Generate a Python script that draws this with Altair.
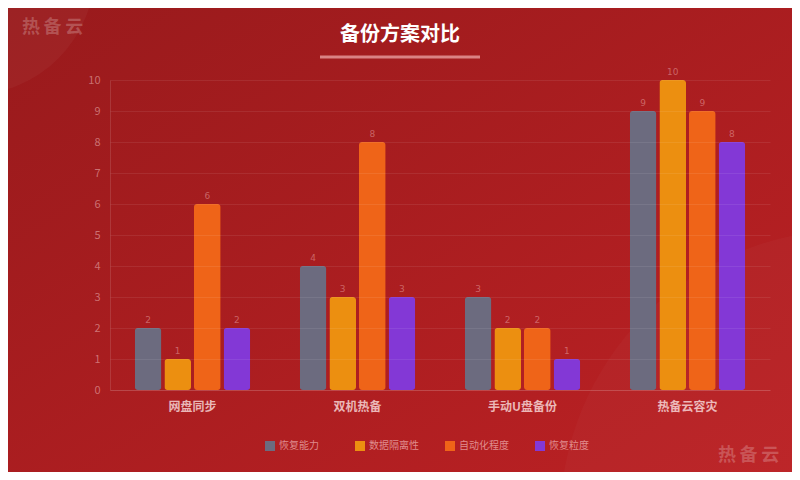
import altair as alt
import pandas as pd

categories = ["网盘同步", "双机热备", "手动U盘备份", "热备云容灾"]
series = ["恢复能力", "数据隔离性", "自动化程度", "恢复粒度"]
recovery = [2, 4, 3, 9]
isolation = [1, 3, 2, 10]
automation = [6, 8, 2, 9]
granularity = [2, 3, 1, 8]
colors = ["#6c6b7f", "#ec8f10", "#ef6418", "#8338d6"]
y_ticks = [0, 1, 2, 3, 4, 5, 6, 7, 8, 9, 10]

values_by_series = [recovery, isolation, automation, granularity]
rows = []
for s, vals in zip(series, values_by_series):
    for c, v in zip(categories, vals):
        rows.append({"category": c, "series": s, "value": v})
df = pd.DataFrame(rows)
one = pd.DataFrame({"a": [0]})

FONT = "Noto Sans CJK SC"

x_enc = alt.X(
    "category:N",
    sort=categories,
    scale=alt.Scale(paddingInner=0.3, paddingOuter=0.15),
    axis=alt.Axis(
        title=None, labelAngle=0, ticks=False, domain=True,
        domainColor="rgba(255,255,255,0.12)", labelColor="rgba(255,235,235,0.75)",
        labelFontSize=12, labelFontWeight="bold", labelPadding=11, labelFont=FONT,
        grid=False, zindex=1,
    ),
)
y_enc = alt.Y(
    "value:Q",
    scale=alt.Scale(domain=[0, 10], nice=False),
    axis=alt.Axis(
        title=None, values=y_ticks, tickCount=11, ticks=False, domain=True,
        labelOverlap=False,
        domainColor="rgba(255,255,255,0.12)", labelColor="rgba(255,220,220,0.45)",
        labelFontSize=11, labelPadding=10, grid=True,
        gridColor="rgba(255,255,255,0.08)", labelFont=FONT, zindex=1,
    ),
)
xo = alt.XOffset("series:N", sort=series, scale=alt.Scale(paddingInner=0.1))

bg = alt.Chart(one).mark_rect(
    color=alt.Gradient(
        gradient="linear", x1=0, y1=0, x2=1, y2=1,
        stops=[alt.GradientStop(offset=0, color="#991a1c"),
               alt.GradientStop(offset=1, color="#bc2124")],
    )
).encode(x=alt.value(-102), x2=alt.value(690), y=alt.value(-72), y2=alt.value(400))

circle1 = alt.Chart(one).mark_point(
    shape="circle", filled=True, color="white", opacity=0.035, size=250 * 250
).encode(x=alt.value(-140), y=alt.value(-110))
circle2 = alt.Chart(one).mark_point(
    shape="circle", filled=True, color="white", opacity=0.025, size=580 * 580
).encode(x=alt.value(740), y=alt.value(440))

bars = alt.Chart(df).mark_bar(cornerRadius=3).encode(
    x=x_enc,
    xOffset=xo,
    y=y_enc,
    color=alt.Color(
        "series:N", sort=series,
        scale=alt.Scale(domain=series, range=colors),
        legend=alt.Legend(
            title=None, orient="none", legendX=155, legendY=361,
            direction="horizontal", columns=4, gridAlign="all",
            columnPadding=26, symbolType="square", symbolSize=100,
            symbolStrokeWidth=0, labelFontSize=10, labelOffset=4,
            labelColor="rgba(255,215,215,0.6)", labelFont=FONT,
        ),
    ),
)

labels = alt.Chart(df).mark_text(
    dy=-8, fontSize=9, color="rgba(255,210,210,0.4)", font="DejaVu Sans"
).encode(
    x=x_enc,
    xOffset=xo,
    y=y_enc,
    text="value:Q",
)

title = alt.Chart(one).mark_text(
    text="备份方案对比", fontSize=20, fontWeight="bold", color="white", font=FONT,
    align="center", baseline="middle",
).encode(x=alt.value(290), y=alt.value(-45))

underline = alt.Chart(one).mark_rule(
    color="rgba(255,200,200,0.6)", strokeWidth=3
).encode(x=alt.value(210), x2=alt.value(370), y=alt.value(-23))

wm1 = alt.Chart(one).mark_text(
    text="热\u2009备\u2009云", fontSize=18, fontWeight="bold",
    color="rgba(255,255,255,0.22)", font=FONT, align="left", baseline="middle",
).encode(x=alt.value(-88), y=alt.value(-52))
wm2 = alt.Chart(one).mark_text(
    text="热\u2009备\u2009云", fontSize=18, fontWeight="bold",
    color="rgba(255,255,255,0.22)", font=FONT, align="left", baseline="middle",
).encode(x=alt.value(608), y=alt.value(376))

chart = alt.layer(
    bg, circle1, circle2, bars, labels, title, underline, wm1, wm2
).properties(
    width=660, height=310,
    autosize="none",
    padding={"left": 102, "top": 72, "right": 22, "bottom": 82},
    background="#a71c1f",
).configure_view(stroke=None)

chart.save("out.html", embed_options={"renderer": "svg", "actions": False})
